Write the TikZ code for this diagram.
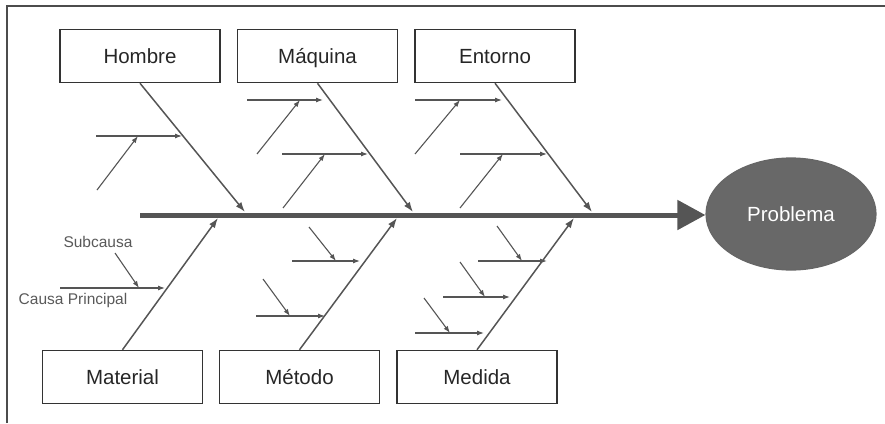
\documentclass[tikz,border=0pt]{standalone}
\usepackage{fontspec}
\setmainfont{Liberation Sans}
\usetikzlibrary{arrows.meta,shapes.geometric}

\definecolor{bonegray}{HTML}{555555}
\definecolor{headgray}{HTML}{686868}

\begin{document}
\begin{tikzpicture}[x=1pt,y=-1pt,
        cause/.style={shape=rectangle,draw=black!80,line width=1.5pt,align=center,
                      minimum width=160pt,minimum height=53pt,text=black!85,
                      text height=17pt,text depth=3pt,
                      font=\fontsize{20.5}{24}\selectfont},
        effect/.style={shape=ellipse,fill=headgray,draw=black!60,line width=1.2pt,
                       minimum width=170pt,minimum height=112pt,text=white,
                       font=\fontsize{20.5}{24}\selectfont},
        hint/.style={text=black!65,inner sep=0,font=\fontsize{15.5}{18}\selectfont},
        spine/.style={line width=5pt,draw=bonegray,-{Triangle[length=28pt,width=29pt]}},
        bone/.style={line width=1.5pt,draw=bonegray,-{Latex[length=10pt,width=7pt]}},
        twig/.style={line width=1.1pt,draw=bonegray,-{Latex[length=7pt,width=5pt]}},
        ]
\useasboundingbox (0,0) rectangle (885,423);

% frame
\draw[line width=1.5pt,draw=black!70] (7,423) -- (7,6) -- (885,6);

% head and causes
\node[effect] (problema) at (791,214) {Problema};
\node[cause] (hombre)   at (140,56)  {Hombre};
\node[cause] (maquina)  at (317.5,56) {Máquina};
\node[cause] (entorno)  at (495,56)  {Entorno};
\node[cause] (material) at (122.5,377) {Material};
\node[cause] (metodo)   at (299.5,377) {Método};
\node[cause] (medida)   at (477,377) {Medida};

% spine
\coordinate (tail) at (140,215);
\draw[spine] (tail) -- (tail -| problema.west);

% main bones
\coordinate (jh) at (245,212);
\coordinate (jq) at (413,212);
\coordinate (je) at (592,212);
\coordinate (jm) at (218,218);
\coordinate (jt) at (397,218);
\coordinate (jd) at (574,218);
\draw[bone] (hombre.south) -- (jh);
\draw[bone] (maquina.south) -- (jq);
\draw[bone] (entorno.south) -- (je);
\draw[bone] (material.north) -- (jm);
\draw[bone] (metodo.north) -- (jt);
\draw[bone] (medida.north) -- (jd);

% sub causes: line x1/x2/y, sub line from (x3,y3) to (x4,y)
\foreach \xa/\xb/\y/\xc/\yc/\xd [count=\i] in {
    96/182/136/97/190/138,
    247/323/100/257/154/300, 282/368/154/283/208/325,
    415/502/100/415/154/460, 460/547/154/460/208/503,
    60/165/288/115/253/139,
    292/360/261/309/227/336, 256/325/316/263/279/290,
    478/547/261/497/226/522, 443/510/297/460/262/485, 415/484/333/424/298/450}{
  \coordinate (c\i a) at (\xa,\y);
  \coordinate (c\i b) at (\xb,\y);
  \coordinate (s\i a) at (\xc,\yc);
  \coordinate (s\i b) at (\xd,\y);
  \draw[twig] (c\i a) -- (c\i b);
  \draw[twig] (s\i a) -- (s\i b);
}

% legend
\node[hint] (subcausa) at (98,242) {Subcausa};
\node[hint] (causa) at (73,300) {Causa Principal};

\end{tikzpicture}
\end{document}
